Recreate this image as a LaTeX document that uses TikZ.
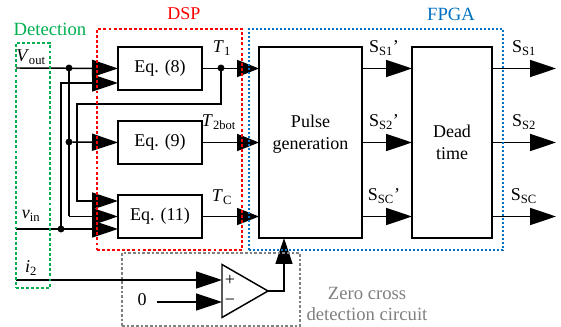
\documentclass[tikz,border=0pt]{standalone}
\usepackage{fontspec}
\setmainfont{Liberation Serif}
\usepackage{xcolor}
\usetikzlibrary{
  positioning, arrows.meta, shapes.geometric
}
\definecolor{detectgreen}{HTML}{00B050}
\definecolor{dspred}{HTML}{FF0000}
\definecolor{fpgablue}{HTML}{0070C0}
\definecolor{zerogray}{HTML}{808080}

\begin{document}
\begin{tikzpicture}[
  x=0.75pt, y=-0.75pt,
  node distance=23.25pt and 42.75pt,
  box/.style={rectangle, draw, line width=1.2pt, align=center, inner sep=0pt, outer sep=0pt, minimum width=63pt, minimum height=32.25pt, font=\fontsize{13.5}{16.5}\selectfont},
  tallbox/.style={box, minimum height=143.25pt},
  framebox/.style={rectangle, line width=1.1pt, inner sep=0pt, outer sep=0pt, dash pattern=on 2.2pt off 1.6pt},
  lbl/.style={inner sep=0pt, font=\fontsize{13.5}{16}\selectfont},
  dot/.style={circle, fill, inner sep=0pt, outer sep=0pt, minimum size=5.2pt},
  arr/.style={-{Triangle[length=19.5pt, width=12.8pt]}, line width=1.1pt},
  arrs/.style={-{Triangle[length=16.5pt, width=12.8pt]}, line width=1.1pt},
  wire/.style={line width=1.1pt}
]
\useasboundingbox (0,0) rectangle (561,327);
\node[box] (eq8) at (160,68.5) {Eq. (8)};
\node[box, below=of eq8] (eq9) {Eq. (9)};
\node[box, below=of eq9] (eq11) {Eq. (11)};
\node[tallbox, minimum width=77.25pt, right=of eq9] (pulse) {Pulse\\generation\\[-6pt]\strut};
\node[tallbox, minimum width=60pt, right=37.5pt of pulse] (dead) {Dead\\time};
\node[isosceles triangle, draw, line width=1.1pt, isosceles triangle apex angle=60, isosceles triangle stretches, inner sep=0pt, outer sep=0pt, minimum width=39.75pt, minimum height=34.5pt, anchor=apex] (comp) at (268,291) {};
% inputs
\coordinate (vout) at (16,68);
\coordinate (vin) at (16,229);
\coordinate (itwo) at (16,280);
\coordinate (plus) at (222,280);
\coordinate (minus) at (222,302);
\coordinate (zeroin) at (157,302);
\coordinate (bend) at (284,291);
\coordinate (eightb) at (118,83);
\coordinate (elevena) at (118,201);
\coordinate (elevenc) at (118,229);
\node[dot] (voutdot) at (69,68) {};
\node[dot] (ninedot) at (69,142) {};
\node[dot] (vindot) at (61,229) {};
\node[dot] (tonedot) at (221,68) {};
\draw[arrs] (eq8.east) -- (pulse.west |- eq8);
\draw[arrs] (eq9.east) -- (pulse.west |- eq9);
\draw[arrs] (eq11.east) -- (pulse.west |- eq11);
\draw[arr] (vout) -- (eq8.west);
\draw[arr] (vin) -- (elevenc);
\draw[wire] (voutdot) -- (voutdot |- eq11);
\draw[arr] (ninedot) -- (eq9.west);
\draw[arr] (voutdot |- eq11) -- (eq11.west);
\draw[arr] (vindot) |- (eightb);
\draw[arr] (tonedot) |- (77,104) |- (elevena);
\draw[arr] (pulse.east |- eq8) -- (dead.west |- eq8);
\draw[arr] (pulse.east |- eq9) -- (dead.west |- eq9);
\draw[arr] (pulse.east |- eq11) -- (dead.west |- eq11);
\draw[arr] (dead.east |- eq8) -- ++(64,0);
\draw[arr] (dead.east |- eq9) -- ++(64,0);
\draw[arr] (dead.east |- eq11) -- ++(64,0);
\draw[arr] (itwo) -- (plus);
\draw[arr] (zeroin) -- (minus);
\draw[arr] (comp.apex) -- (bend) -- (bend |- pulse.south);
% dashed regions
\node[framebox, draw=detectgreen, minimum width=25.5pt, minimum height=183.75pt] (detect) at (33,165.5) {};
\node[framebox, draw=dspred, minimum width=108.75pt, minimum height=165.75pt] (dsp) at (169.5,139.5) {};
\node[framebox, draw=fpgablue, dash pattern=on 1.6pt off 1.4pt, minimum width=190.5pt, minimum height=165.75pt] (fpga) at (376,139.5) {};
\node[framebox, draw=zerogray, dash pattern=on 2pt off 1.5pt, minimum width=133.5pt, minimum height=54.75pt] (zero) at (211,289.5) {};
% labels
\node[lbl, text=dspred] (dsplbl) at (184,14) {DSP};
\node[lbl, text=fpgablue, font=\fontsize{14}{16}\selectfont] (fpgalbl) at (451,14) {FPGA};
\node[lbl, text=detectgreen, font=\fontsize{14}{16}\selectfont] (detectlbl) at (50,29) {Detection};
\node[lbl] (voutlbl) at (31,57) {\textit{V}\textsubscript{out}};
\node[lbl] (vinlbl) at (31,216) {\textit{v}\textsubscript{in}};
\node[lbl] (itwolbl) at (31,268) {\textit{i}\textsubscript{2}};
\node[lbl] (zerolbl) at (142,300) {0};
\node[lbl] (tonelbl) at (222,48) {\textit{T}\textsubscript{1}};
\node[lbl] (ttwolbl) at (219,122) {\textit{T}\textsubscript{2bot}};
\node[lbl] (tclbl) at (222,197) {\textit{T}\textsubscript{C}};
\node[lbl] (ssonep) at (384,48) {S\textsubscript{S1}’};
\node[lbl] (sstwop) at (384,122) {S\textsubscript{S2}’};
\node[lbl] (sscp) at (384,196) {S\textsubscript{SC}’};
\node[lbl] (ssone) at (524,48) {S\textsubscript{S1}};
\node[lbl] (sstwo) at (524,122) {S\textsubscript{S2}};
\node[lbl] (ssc) at (524,196) {S\textsubscript{SC}};
\node[lbl] (pluslbl) at (230,280) {+};
\node[lbl] (minuslbl) at (230,302) {−};
\node[lbl, text=zerogray, align=center, font=\fontsize{14}{15.75}\selectfont] (zerotext) at (367,303.5) {Zero cross\\detection circuit};
\end{tikzpicture}
\end{document}
